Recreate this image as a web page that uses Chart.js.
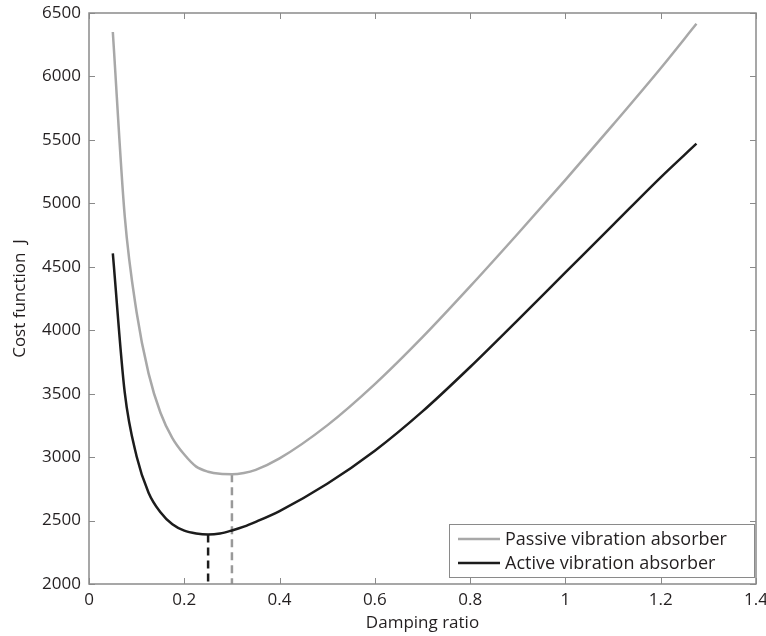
<!DOCTYPE html>
<html>
<head>
<meta charset="utf-8">
<script src="https://cdn.jsdelivr.net/npm/chart.js@4"></script>
<style>
  html, body { margin: 0; padding: 0; background: #ffffff; }
  #wrap { position: relative; width: 766px; height: 636px; }
</style>
</head>
<body>
<div id="wrap"><canvas id="chart"></canvas></div>
<script>
// Values
const dampingRatio = [0.05, 0.075, 0.1, 0.125, 0.15, 0.175, 0.2, 0.225, 0.25, 0.275, 0.3, 0.325, 0.35, 0.4, 0.5, 0.6, 0.7, 0.8, 0.9, 1.0, 1.1, 1.2, 1.275];
const passiveCost = [6350, 4900, 4140, 3660, 3350, 3150, 3020, 2925, 2885, 2868, 2865, 2875, 2900, 2990, 3250, 3575, 3945, 4345, 4760, 5185, 5620, 6065, 6415];
const activeCost  = [4605, 3510, 3005, 2720, 2565, 2470, 2420, 2398, 2390, 2398, 2422, 2452, 2490, 2575, 2790, 3050, 3360, 3710, 4080, 4455, 4830, 5205, 5470];

// optimum markers (dashed drop lines)
const passiveOptimum = { x: 0.3, y: 2865 };
const activeOptimum = { x: 0.25, y: 2390 };

const seriesLabels = ['Passive vibration absorber', 'Active vibration absorber'];
const xTicks = [0, 0.2, 0.4, 0.6, 0.8, 1, 1.2, 1.4];
const yTicks = [2000, 2500, 3000, 3500, 4000, 4500, 5000, 5500, 6000, 6500];

const GREY = '#a8a8a8';
const BLACK = '#1c1c1c';
const AXIS = '#8a8a8a';
const TEXT = '#231f20';

Chart.defaults.font.family = "'Open Sans', sans-serif";
Chart.defaults.font.size = 17;
Chart.defaults.color = TEXT;

const toPoints = (xs, ys) => xs.map((x, i) => ({ x: x, y: ys[i] }));

// box round the plot with inward ticks on all four sides (MATLAB style)
const axesBox = {
  id: 'axesBox',
  afterDatasetsDraw(chart) {
    const { ctx, chartArea: a, scales: { x, y } } = chart;
    const len = 6;
    ctx.save();
    ctx.strokeStyle = AXIS;
    ctx.lineWidth = 1;
    ctx.beginPath();
    xTicks.forEach(v => {
      const px = Math.round(x.getPixelForValue(v)) + 0.5;
      ctx.moveTo(px, a.bottom); ctx.lineTo(px, a.bottom - len);
      ctx.moveTo(px, a.top); ctx.lineTo(px, a.top + len);
    });
    yTicks.forEach(v => {
      const py = Math.round(y.getPixelForValue(v)) + 0.5;
      ctx.moveTo(a.left, py); ctx.lineTo(a.left + len, py);
      ctx.moveTo(a.right, py); ctx.lineTo(a.right - len, py);
    });
    ctx.stroke();
    ctx.lineWidth = 1.5;
    ctx.strokeRect(a.left, a.top, a.right - a.left, a.bottom - a.top);
    ctx.restore();
  }
};

// legend box inside the lower right corner
const insideLegend = {
  id: 'insideLegend',
  afterDraw(chart, args, opts) {
    const { ctx, chartArea: a } = chart;
    const w = opts.width, h = opts.height;
    const left = a.right - opts.rightInset - w;
    const top = a.bottom - opts.bottomInset - h;
    ctx.save();
    ctx.fillStyle = '#ffffff';
    ctx.fillRect(left, top, w, h);
    ctx.strokeStyle = AXIS;
    ctx.lineWidth = 1;
    ctx.strokeRect(left + 0.5, top + 0.5, w, h);
    ctx.font = opts.fontSize + "px 'Open Sans', sans-serif";
    ctx.textBaseline = 'middle';
    ctx.textAlign = 'left';
    const items = chart.data.datasets.filter(d => seriesLabels.includes(d.label));
    items.forEach((d, i) => {
      const cy = top + opts.firstRow + i * opts.rowGap;
      ctx.strokeStyle = d.borderColor;
      ctx.lineWidth = d.borderWidth;
      ctx.beginPath();
      ctx.moveTo(left + opts.lineStart, cy);
      ctx.lineTo(left + opts.lineStart + opts.lineLength, cy);
      ctx.stroke();
      ctx.fillStyle = TEXT;
      ctx.fillText(d.label, left + opts.lineStart + opts.lineLength + 5, cy + 1);
    });
    ctx.restore();
  }
};

new Chart(document.getElementById('chart'), {
  type: 'line',
  data: {
    datasets: [
      {
        label: seriesLabels[0],
        data: toPoints(dampingRatio, passiveCost),
        borderColor: GREY,
        borderWidth: 2.5,
        pointRadius: 0,
        cubicInterpolationMode: 'monotone'
      },
      {
        label: seriesLabels[1],
        data: toPoints(dampingRatio, activeCost),
        borderColor: BLACK,
        borderWidth: 2.5,
        pointRadius: 0,
        cubicInterpolationMode: 'monotone'
      },
      {
        label: 'passive optimum',
        data: [passiveOptimum, { x: passiveOptimum.x, y: yTicks[0] }],
        borderColor: '#999999',
        borderWidth: 2.5,
        borderDash: [8, 5],
        pointRadius: 0
      },
      {
        label: 'active optimum',
        data: [activeOptimum, { x: activeOptimum.x, y: yTicks[0] }],
        borderColor: BLACK,
        borderWidth: 2.5,
        borderDash: [8, 5],
        pointRadius: 0
      }
    ]
  },
  options: {
    responsive: true,
    maintainAspectRatio: false,
    animation: false,
    layout: { padding: { top: 13, right: 10, left: 0, bottom: 0 } },
    plugins: {
      legend: { display: false },
      tooltip: { enabled: false },
      insideLegend: {
        width: 305, height: 53, rightInset: 2, bottomInset: 7,
        lineStart: 9, lineLength: 42, firstRow: 15, rowGap: 24, fontSize: 18
      }
    },
    scales: {
      x: {
        type: 'linear',
        min: 0,
        max: 1.4,
        afterBuildTicks: (scale) => { scale.ticks = xTicks.map(v => ({ value: v })); },
        afterFit: (scale) => { scale.height = 52; scale.paddingLeft = 0; scale.paddingRight = 0; },
        ticks: {
          padding: 6,
          maxRotation: 0,
          callback: (v) => String(+v.toFixed(1))
        },
        grid: { display: false, drawTicks: false },
        border: { display: false },
        title: {
          display: true,
          text: 'Damping ratio',
          padding: { top: 0, bottom: 3 }
        }
      },
      y: {
        type: 'linear',
        min: 2000,
        max: 6500,
        afterBuildTicks: (scale) => { scale.ticks = yTicks.map(v => ({ value: v })); },
        afterFit: (scale) => { scale.width = 89; scale.paddingTop = 0; scale.paddingBottom = 0; },
        ticks: {
          padding: 8,
          callback: (v) => String(v)
        },
        grid: { display: false, drawTicks: false },
        border: { display: false },
        title: {
          display: true,
          text: 'Cost function  J',
          padding: { top: 10, bottom: 0 }
        }
      }
    }
  },
  plugins: [axesBox, insideLegend]
});
</script>
</body>
</html>
